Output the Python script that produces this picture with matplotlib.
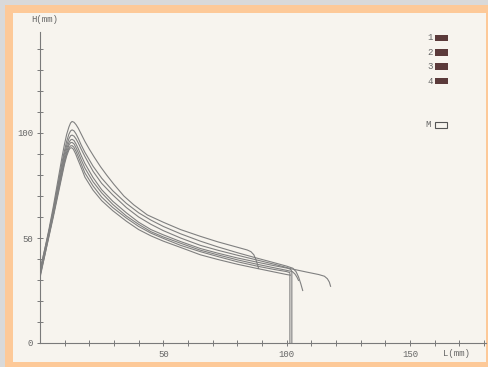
import matplotlib
matplotlib.use("Agg")
import matplotlib.pyplot as plt
from matplotlib.patches import Rectangle

# --- Datos (L en mm, H en mm) ---
curva1_L = [0, 1.8, 3.6, 5.4, 7.2, 9, 9.9, 10.8, 11.7, 12.4, 13, 13.8, 14.6, 15.5, 16.7, 18.2, 20, 22, 24.5, 27, 30,
            34, 38, 43.5, 50, 57, 65, 72, 80, 84, 85.5, 86.7, 87.6, 88.2, 88.6]
curva1_H = [34, 44, 54, 65, 77, 89, 94.5, 99.3, 102.8, 104.8, 105.5, 105.1, 104, 102.3, 99.5, 96, 92.3, 88.5, 84, 80,
            75.5, 70, 65.8, 61, 57.5, 54, 50.8, 48.2, 45.6, 44.3, 43.5, 42, 39.5, 37.2, 35.5]

curva2_L = [0, 1.8, 3.6, 5.4, 7.2, 9, 9.9, 10.8, 11.7, 12.4, 13, 13.8, 14.6, 15.5, 16.7, 18.2, 21.5, 25, 29.5, 35,
            40, 45, 50, 57, 65, 72, 80, 88, 95, 100, 102.5, 103.8, 104.8, 105.7, 106.5]
curva2_H = [33, 43, 53, 63.5, 75, 86.5, 91.5, 96, 99.4, 101, 101.5, 101, 99.6, 97.5, 94.3, 90.8, 84.2, 78.5, 72.5,
            66.5, 62, 58.5, 55.5, 52, 48.5, 45.8, 43, 40.4, 38.2, 36.6, 35.6, 34, 31.5, 28.3, 25]

curva3_L = [0, 1.8, 3.6, 5.4, 7.2, 9, 9.9, 10.8, 11.7, 12.4, 13, 13.8, 14.6, 15.5, 16.7, 18.2, 21.5, 25, 29.5, 35,
            40, 45, 50, 57, 65, 72, 80, 88, 95, 102, 108, 113, 115.3, 116.5, 117.3, 117.8]
curva3_H = [35, 44, 53, 63, 74, 85, 90, 94, 97.2, 98.7, 99, 98.5, 97.2, 95.3, 92.3, 88.8, 81.8, 76, 70.5, 64.5, 60,
            56.5, 53.5, 50, 46.5, 44.2, 41.8, 39.5, 37.5, 35.3, 33.8, 32.6, 31.8, 30.6, 29, 27]

curva4_L = [0, 1.8, 3.6, 5.4, 7.2, 9, 9.9, 10.8, 11.7, 12.4, 13, 13.8, 14.6, 15.5, 16.7, 18.2, 21.5, 25, 29.5, 35,
            40, 45, 50, 57, 65, 72, 80, 88, 95, 100, 101.2, 101.8, 102.1, 102.1]
curva4_H = [32, 42, 52, 62, 72.5, 83.5, 88.5, 92.5, 95.4, 96.7, 97, 96.4, 94.8, 92.6, 89.3, 85.5, 78.8, 73, 67.5, 62,
            57.5, 54, 51.5, 48.3, 45, 42.8, 40.5, 38.5, 36.8, 35.7, 35.3, 34.8, 34, 0]

curva5_L = [0, 1.8, 3.6, 5.4, 7.2, 9, 9.9, 10.8, 11.7, 12.4, 13, 13.8, 14.6, 15.5, 16.7, 18.2, 21.5, 25, 29.5, 35,
            40, 45, 50, 57, 65, 72, 80, 88, 95, 100, 102.3, 103.4, 104.2, 104.8]
curva5_H = [31, 41, 51, 61, 71.5, 82, 87, 91, 94.2, 95.4, 95.5, 94.8, 93, 90.7, 87.3, 83.3, 76.8, 71.5, 66, 60.5,
            56.5, 53, 50.5, 47.5, 44.2, 42, 39.6, 37.5, 35.8, 34.6, 34, 32.8, 31.3, 29.8]

curva6_L = [0, 1.8, 3.6, 5.4, 7.2, 9, 9.9, 10.8, 11.7, 12.3, 13, 13.7, 14.6, 15.5, 16.7, 18.2, 21.5, 25, 29.5, 35,
            40, 45, 50, 57, 65, 72, 80, 88, 95, 100, 101.3, 101.3]
curva6_H = [33, 42, 51.5, 61, 71, 81, 86, 90, 92.8, 93.8, 94, 93.3, 91.3, 88.8, 85.3, 81, 74.8, 69.5, 64.5, 59.5,
            55.5, 52.3, 49.8, 46.5, 43.5, 41.2, 38.7, 36.6, 35, 34, 33.5, 0]

curva7_L = [0, 1.8, 3.6, 5.4, 7.2, 9, 9.9, 10.8, 11.7, 12.2, 12.8, 13.5, 14.4, 15.3, 16.7, 18.2, 21.5, 25, 29.5, 35,
            40, 45, 50, 57, 65, 72, 80, 88, 95, 100, 101.5]
curva7_H = [32, 41, 50.5, 60, 70, 80, 85, 89, 91.9, 92.8, 93, 92.3, 90.2, 87.5, 83.5, 79, 72.8, 67.8, 63, 58, 54,
            51, 48.5, 45.5, 42, 39.8, 37.5, 35.5, 33.8, 32.6, 32.3]

curvas = [(curva1_L, curva1_H), (curva2_L, curva2_H), (curva3_L, curva3_H),
          (curva4_L, curva4_H), (curva5_L, curva5_H), (curva6_L, curva6_H),
          (curva7_L, curva7_H)]

y_ticks = list(range(0, 141, 10))
y_labels = ["0", "50", "100"]
x_ticks = list(range(10, 181, 10))
x_labels = ["50", "100", "150"]
leyenda = ["1", "2", "3", "4"]

# --- Figura ---
W, H = 489, 367
fig = plt.figure(figsize=(W / 100, H / 100), dpi=100)
fig.patch.set_facecolor("#d9d9d9")


def px(x, y):
    # pixeles (origen arriba a la izquierda) -> fraccion de figura
    return x / W, 1 - y / H


# marco naranja y fondo crema (detras de los ejes)
fig.patches.append(Rectangle(px(5, 367), (W - 5) / W, (H - 5) / H, transform=fig.transFigure,
                             facecolor="#fdc998", edgecolor="none", zorder=-3))
fig.patches.append(Rectangle(px(13, 362), (486 - 13) / W, (362 - 13) / H, transform=fig.transFigure,
                             facecolor="#f7f4ee", edgecolor="none", zorder=-2))

x0, y0 = 40, 343
sx, sy = 2.4667, 2.1
xmax, ymax = 181, 148
ax = fig.add_axes([x0 / W, (H - y0) / H, xmax * sx / W, ymax * sy / H])
ax.set_facecolor("none")
ax.set_xlim(0, xmax)
ax.set_ylim(0, ymax)

for L, Hv in curvas:
    ax.plot(L, Hv, color="#808080", lw=0.8, solid_joinstyle="round")

for s in ["top", "right"]:
    ax.spines[s].set_visible(False)
for s in ["left", "bottom"]:
    ax.spines[s].set_color("#7a7a7a")
    ax.spines[s].set_linewidth(0.8)

ax.set_yticks(y_ticks)
ax.set_yticklabels([str(t) if str(t) in y_labels else "" for t in y_ticks])
ax.set_xticks(x_ticks)
ax.set_xticklabels([str(t) if str(t) in x_labels else "" for t in x_ticks])
ax.tick_params(direction="inout", length=4, width=0.7, color="#7a7a7a",
               labelsize=6.5, labelcolor="#666666")
ax.tick_params(axis="y", pad=3)
ax.tick_params(axis="x", pad=3)
for lab in ax.get_xticklabels() + ax.get_yticklabels():
    lab.set_family("Liberation Mono")

mono = dict(family="Liberation Mono", color="#666666", fontsize=6.5)
fig.text(*px(45, 20), "H(mm)", ha="center", va="center", **mono)
fig.text(*px(456, 354), "L(mm)", ha="center", va="center", **mono)

# leyenda
filas = [38, 52.5, 66.5, 81]
for etiqueta, yy in zip(leyenda, filas):
    fig.text(*px(430, yy), etiqueta, ha="center", va="center", **mono)
    fig.patches.append(Rectangle(px(435, yy + 3), 13 / W, 6 / H, transform=fig.transFigure,
                                 facecolor="#5b3a3a", edgecolor="none"))
fig.text(*px(428, 124.5), "M", ha="center", va="center", **mono)
fig.patches.append(Rectangle(px(435, 127.5), 12 / W, 6 / H, transform=fig.transFigure,
                             facecolor="none", edgecolor="#555555", lw=0.8))

fig.savefig("out.png", dpi=100, facecolor=fig.get_facecolor())
